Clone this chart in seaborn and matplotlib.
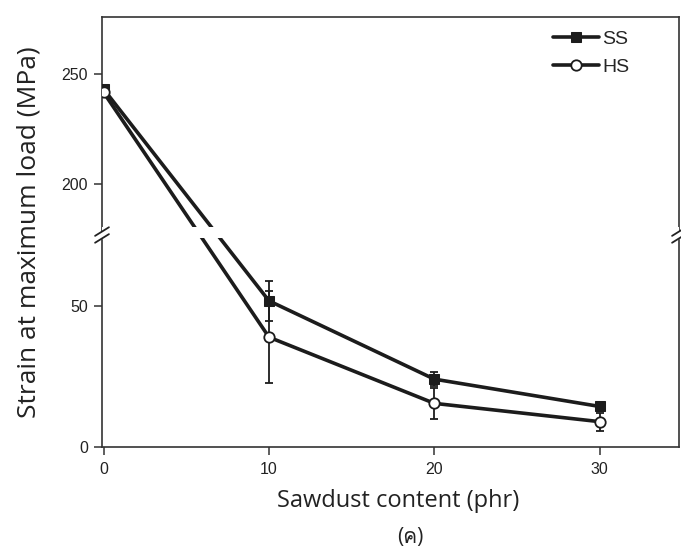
import numpy as np
import matplotlib
matplotlib.use("Agg")
import matplotlib.pyplot as plt
from matplotlib import font_manager
import seaborn as sns
import pandas as pd

# data
sawdust = [0, 10, 20, 30]
ss_strain = [243.0, 51.9, 24.1, 14.4]
ss_err = [0.0, 7.0, 2.5, 1.2]
hs_strain = [241.5, 39.0, 15.5, 9.0]
hs_err = [0.0, 16.3, 5.6, 3.2]
y_ticks = [0, 50, 200, 250]
x_ticks = [0, 10, 20, 30]

# broken y axis: lower 0..LO_TOP and upper UP_BOT..top, gap squeezed
LO_TOP, UP_BOT = 75.3, 177.2
K1, K2, EPS = 2.832, 2.22, 0.005


def fwd(y):
    y = np.asarray(y, dtype=float)
    a = LO_TOP * K1
    b = a + (UP_BOT - LO_TOP) * EPS
    return np.where(y <= LO_TOP, y * K1,
                    np.where(y < UP_BOT, a + (y - LO_TOP) * EPS,
                             b + (y - UP_BOT) * K2))


def inv(v):
    v = np.asarray(v, dtype=float)
    a = LO_TOP * K1
    b = a + (UP_BOT - LO_TOP) * EPS
    return np.where(v <= a, v / K1,
                    np.where(v < b, LO_TOP + (v - a) / EPS,
                             UP_BOT + (v - b) / K2))


def find_font_with(char):
    # look for any installed font that has a glyph for char
    try:
        from fontTools.ttLib import TTFont
    except ImportError:
        return None
    for f in font_manager.fontManager.ttflist:
        try:
            tt = TTFont(f.fname, fontNumber=0, lazy=True)
            if ord(char) in tt.getBestCmap():
                return f.name
        except Exception:
            continue
    return None


sns.set_style("ticks")
plt.rcParams["font.family"] = ["Liberation Sans", "DejaVu Sans"]

thai = find_font_with("ค")
label_fonts = ["Open Sans"] + ([thai] if thai else []) + ["DejaVu Sans"]

fig = plt.figure(figsize=(6.81, 5.47), dpi=100)
ax = fig.add_axes([102 / 681, 1 - 447 / 547, 577 / 681, 430 / 547])
ax.set_yscale("function", functions=(fwd, inv))

df = pd.DataFrame({
    "x": sawdust * 2,
    "y": ss_strain + hs_strain,
    "series": ["SS"] * 4 + ["HS"] * 4,
})
ink = "#1c1c1c"
sns.lineplot(data=df[df.series == "SS"], x="x", y="y", ax=ax, color=ink,
             lw=2.6, marker="s", markersize=6.5, markerfacecolor=ink,
             markeredgecolor=ink, label="SS", zorder=3)
sns.lineplot(data=df[df.series == "HS"], x="x", y="y", ax=ax, color=ink,
             lw=2.6, marker="o", markersize=7.5, markerfacecolor="white",
             markeredgecolor=ink, markeredgewidth=1.3, label="HS", zorder=4)

for vals, errs in [(ss_strain, ss_err), (hs_strain, hs_err)]:
    ax.errorbar(sawdust[1:], vals[1:], yerr=errs[1:], fmt="none",
                ecolor=ink, elinewidth=1.3, capsize=3.2, capthick=1.3,
                zorder=2.6)

ax.set_xlim(-0.1, 34.8)
ax.set_ylim(0, 275.7)
ax.set_xticks(x_ticks)
ax.set_yticks(y_ticks)
ax.set_yticklabels([str(t) for t in y_ticks])
ax.yaxis.set_minor_locator(matplotlib.ticker.NullLocator())
ax.tick_params(axis="both", labelsize=11.5, length=6, width=1.1,
               color="#333333", labelcolor="#222222")
ax.tick_params(axis="x", pad=5)
ax.tick_params(axis="y", pad=4)

for s in ax.spines.values():
    s.set_color("#333333")
    s.set_linewidth(1.2)

# white band to cut the data lines at the break
top = fwd(275.7)
yb = (447 - 235) / 430
ax.axhspan(inv((447 - 238) / 430 * top), inv((447 - 227) / 430 * top),
           color="white", zorder=5, lw=0)

# break marks on left and right spines
for xs in (0.0, 1.0):
    for dy in (-0.008, 0.008):
        ax.plot([xs - 0.012, xs + 0.012], [yb + dy - 0.01, yb + dy + 0.01],
                transform=ax.transAxes, color="#222222", lw=1.3,
                clip_on=False, zorder=7)
    ax.fill([xs - 0.004, xs + 0.004, xs + 0.004, xs - 0.004],
            [yb - 0.006, yb - 0.006, yb + 0.006, yb + 0.006],
            transform=ax.transAxes, color="white", clip_on=False, zorder=6)

ax.set_xlabel("Sawdust content (phr)", family=label_fonts,
              fontsize=17, color="#222222")
ax.xaxis.set_label_coords((398 - 102) / 577, -(489 - 447) / 430)
ax.set_ylabel("Strain at maximum load (MPa)", family=label_fonts,
              fontsize=19, color="#222222")
ax.yaxis.set_label_coords(-(102 - 42) / 577, (447 - 232) / 430)

ax.legend(loc="upper left", bbox_to_anchor=(0.781, 0.97),
          frameon=False, fontsize=14, handlelength=2.4,
          handletextpad=0.15, labelspacing=0.55, borderpad=0,
          borderaxespad=0)

fig.text(410 / 681, 1 - 538 / 547, "(ค)", ha="center", va="center",
         fontsize=15, color="#222222", family=label_fonts)

fig.savefig("out.png", dpi=100)
